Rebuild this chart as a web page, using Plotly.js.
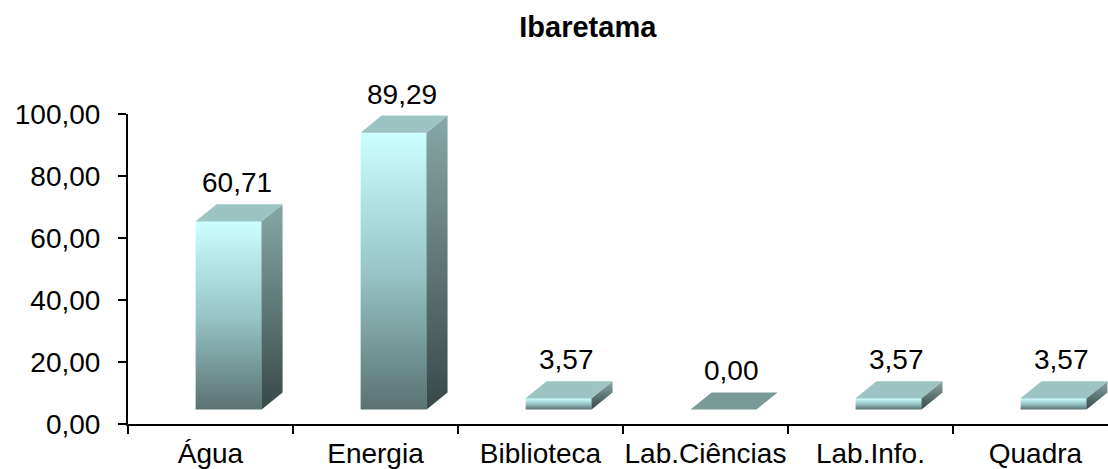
<!DOCTYPE html>
<html>
<head>
<meta charset="utf-8">
<script src="https://cdn.plot.ly/plotly-3.0.1.min.js"></script>
<style>
  html, body { margin: 0; padding: 0; background: #ffffff; }
  #chart { width: 1108px; height: 469px; }
</style>
</head>
<body>
<div id="chart"></div>
<script>
// ---- data ----
const chartTitle = 'Ibaretama';
const categories = ['Água', 'Energia', 'Biblioteca', 'Lab.Ciências', 'Lab.Info.', 'Quadra'];
const values = [60.71, 89.29, 3.57, 0.00, 3.57, 3.57];
const yTickValues = [0, 20, 40, 60, 80, 100];

// ---- 3D look (style constants, not data) ----
const FLOOR = 4.7;      // floor height of the 3D bars (y units)
const LEFT = -0.09;     // front-face left offset from category centre (category units)
const WIDTH = 0.40;     // front-face width (category units)
const DX = 0.127;       // depth, horizontal (category units)
const DY = 5.5;         // depth, vertical (y units)
const FONT = 'Liberation Sans, Arial, Helvetica, sans-serif';

const fmt = v => v.toFixed(2).replace('.', ',');

const traces = [];

// front faces as real bars (base = floor)
traces.push({
  type: 'bar',
  x: categories,
  y: values,
  base: FLOOR,
  width: WIDTH,
  offset: LEFT,
  marker: { color: '#95c2c2', line: { width: 0 } },
  hoverinfo: 'skip',
  showlegend: false
});

const frontScale = [[0, '#5a7272'], [0.5, '#98c6c6'], [1, '#ccffff']];
const sideScale = [[0, '#394848'], [1, '#86a8a6']];

values.forEach((v, i) => {
  const L = i + LEFT, R = i + LEFT + WIDTH;
  const b = FLOOR, t = FLOOR + v;
  if (v > 0) {
    traces.push({
      type: 'scatter', xaxis: 'x2', yaxis: 'y', mode: 'lines',
      x: [L, R, R, L, L], y: [b, b, t, t, b],
      fill: 'toself', line: { width: 0, color: 'rgba(0,0,0,0)' },
      fillcolor: '#a0d0d0',
      fillgradient: { type: 'vertical', colorscale: frontScale, start: b, stop: t },
      hoverinfo: 'skip', showlegend: false
    });
    traces.push({
      type: 'scatter', xaxis: 'x2', yaxis: 'y', mode: 'lines',
      x: [R, R + DX, R + DX, R, R], y: [b, b + DY, t + DY, t, b],
      fill: 'toself', line: { width: 0, color: 'rgba(0,0,0,0)' },
      fillcolor: '#6a8886',
      fillgradient: { type: 'vertical', colorscale: sideScale, start: b, stop: t + DY },
      hoverinfo: 'skip', showlegend: false
    });
  }
  traces.push({
    type: 'scatter', xaxis: 'x2', yaxis: 'y', mode: 'lines',
    x: [L, R, R + DX, L + DX, L], y: [t, t, t + DY, t + DY, t],
    fill: 'toself', line: { width: 0, color: 'rgba(0,0,0,0)' },
    fillcolor: v > 0 ? '#9cc4c2' : '#7a9a98',
    hoverinfo: 'skip', showlegend: false
  });
});

const annotations = values.map((v, i) => ({
  xref: 'x2', yref: 'y',
  x: i + 0.16, y: FLOOR + v + DY,
  text: fmt(v),
  showarrow: false,
  yanchor: 'bottom', xanchor: 'center',
  yshift: 4,
  font: { family: FONT, size: 28, color: '#000000' }
}));

const xRange = [-0.5, 5.44];

const layout = {
  width: 1108, height: 469,
  paper_bgcolor: '#ffffff', plot_bgcolor: '#ffffff',
  margin: { l: 128, r: 0, t: 114, b: 45, pad: 0 },
  separators: ',.',
  showlegend: false,
  bargap: 0,
  title: {
    text: '<b>' + chartTitle + '</b>',
    xref: 'container', yref: 'container',
    x: 0.5305, xanchor: 'center',
    y: 0.942, yanchor: 'middle',
    font: { family: FONT, size: 29, color: '#000000' }
  },
  xaxis: {
    type: 'category',
    range: xRange,
    showgrid: false, zeroline: false,
    showline: true, linecolor: '#000000', linewidth: 2,
    ticks: 'outside', tickson: 'boundaries', ticklen: 8, tickwidth: 2, tickcolor: '#000000',
    tickangle: 0,
    ticklabelstandoff: 3,
    tickfont: { family: FONT, size: 28, color: '#000000' },
    fixedrange: true
  },
  xaxis2: {
    overlaying: 'x', anchor: 'y',
    range: xRange, visible: false, fixedrange: true
  },
  yaxis: {
    range: [0, 100],
    tickvals: yTickValues,
    tickformat: '.2f',
    showgrid: false, zeroline: false,
    showline: true, linecolor: '#000000', linewidth: 2,
    ticks: 'outside', ticklen: 8, tickwidth: 1.5, tickcolor: '#000000',
    ticklabelstandoff: 12,
    tickfont: { family: FONT, size: 28, color: '#000000' },
    fixedrange: true
  },
  annotations: annotations,
  hovermode: false
};

Plotly.newPlot('chart', traces, layout, { displayModeBar: false, staticPlot: true });
</script>
</body>
</html>
